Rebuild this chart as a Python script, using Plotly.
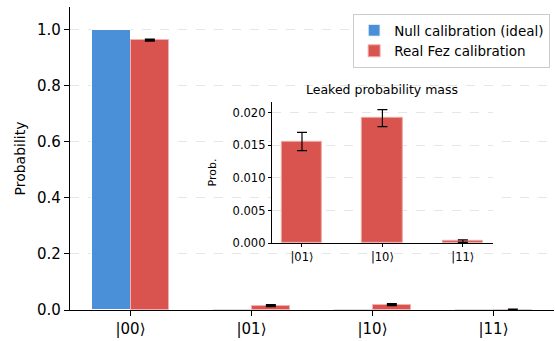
import plotly.graph_objects as go

states = ["|00⟩", "|01⟩", "|10⟩", "|11⟩"]
null_probs = [1.0, 0.0, 0.0, 0.0]
fez_probs = [0.964, 0.0156, 0.0192, 0.0003]
fez_err = [0.0012, 0.0012, 0.0012, 0.0002]

leak_states = ["|01⟩", "|10⟩", "|11⟩"]
leak_probs = [0.0156, 0.0192, 0.0003]
leak_err = [0.0014, 0.0013, 0.0002]

BLUE = "#4a90d9"
RED = "#d9534f"
FONT = "DejaVu Sans"
bw = 0.32

xs = list(range(len(states)))
fig = go.Figure()
fig.add_trace(go.Bar(
    x=[x - bw / 2 for x in xs], y=null_probs, width=bw,
    marker=dict(color=BLUE, line=dict(color="white", width=1)),
    name="Null calibration (ideal)", xaxis="x", yaxis="y"))
fig.add_trace(go.Bar(
    x=[x + bw / 2 for x in xs], y=fez_probs, width=bw,
    marker=dict(color=RED, line=dict(color="#f2b0ae", width=1)),
    error_y=dict(type="data", array=fez_err, color="black", thickness=2.5, width=5),
    name="Real Fez calibration", xaxis="x", yaxis="y"))

lx = list(range(len(leak_states)))
fig.add_trace(go.Bar(
    x=lx, y=leak_probs, width=0.5,
    marker=dict(color=RED, line=dict(color="#f0a8a6", width=1)),
    error_y=dict(type="data", array=leak_err, color="black", thickness=1.2, width=5),
    showlegend=False, xaxis="x2", yaxis="y2"))

# zero-height bar edges over the axis line
shapes = []
for x in xs[1:]:
    shapes.append(dict(type="line", xref="x", yref="y", x0=x - bw, x1=x, y0=0, y1=0,
                       line=dict(color="#d0d0d0", width=1.5), layer="above"))
shapes.append(dict(type="line", xref="x", yref="y", x0=3, x1=3 + bw, y0=0, y1=0,
                   line=dict(color="#d0d0d0", width=1.5), layer="above"))
shapes.append(dict(type="line", xref="x", yref="y", x0=3 + 0.12, x1=3 + 0.2, y0=0, y1=0,
                   line=dict(color="black", width=2), layer="above"))

fig.update_layout(
    width=555, height=341,
    margin=dict(l=70, r=1, t=7, b=31),
    plot_bgcolor="white", paper_bgcolor="white",
    font=dict(family=FONT, color="black"),
    barmode="overlay",
    bargap=0,
    shapes=shapes,
    xaxis=dict(range=[-0.5, 3.5], tickvals=xs, ticktext=states, showgrid=False,
               showline=True, linecolor="black", linewidth=1.2, ticks="outside",
               ticklen=5, tickcolor="black", tickfont=dict(size=15), zeroline=False,
               automargin=False),
    yaxis=dict(range=[0, 1.082], tickvals=[0, 0.2, 0.4, 0.6, 0.8, 1.0],
               ticktext=["0.0", "0.2", "0.4", "0.6", "0.8", "1.0"],
               showgrid=True, gridcolor="#e6e6e6", griddash="dash", gridwidth=1,
               showline=True, linecolor="black", linewidth=1.2, ticks="outside",
               ticklen=5, tickcolor="black", tickfont=dict(size=15), zeroline=False,
               automargin=False,
               title=dict(text="Probability", font=dict(size=14), standoff=8)),
    xaxis2=dict(domain=[0.417, 0.874], anchor="y2", range=[-0.375, 2.375],
                tickvals=lx, ticktext=leak_states, showgrid=False,
                showline=True, linecolor="black", linewidth=1, ticks="outside",
                ticklen=3, tickcolor="black", tickfont=dict(size=11.5), zeroline=False),
    yaxis2=dict(domain=[0.221, 0.687], anchor="x2", range=[0, 0.0217],
                tickvals=[0, 0.005, 0.01, 0.015, 0.02],
                ticktext=["0.000", "0.005", "0.010", "0.015", "0.020"],
                showgrid=True, gridcolor="#e6e6e6", griddash="dash",
                showline=True, linecolor="black", linewidth=1, ticks="outside",
                ticklen=3, tickcolor="black", tickfont=dict(size=11.5), zeroline=False,
                title=dict(text="Prob.", font=dict(size=11), standoff=13)),
    legend=dict(x=0.992, y=0.977, xanchor="right", yanchor="top",
                bordercolor="#cccccc", borderwidth=1, bgcolor="rgba(255,255,255,0.8)",
                font=dict(size=13.5), tracegroupgap=0),
    annotations=[dict(text="Leaked probability mass", xref="paper", yref="paper",
                      x=(0.417 + 0.874) / 2, y=0.687, yshift=3, xanchor="center",
                      yanchor="bottom", showarrow=False, font=dict(size=12.5))],
)

fig.write_html("out.html", config={"displayModeBar": False},
               post_script="document.body.style.margin='0';")
